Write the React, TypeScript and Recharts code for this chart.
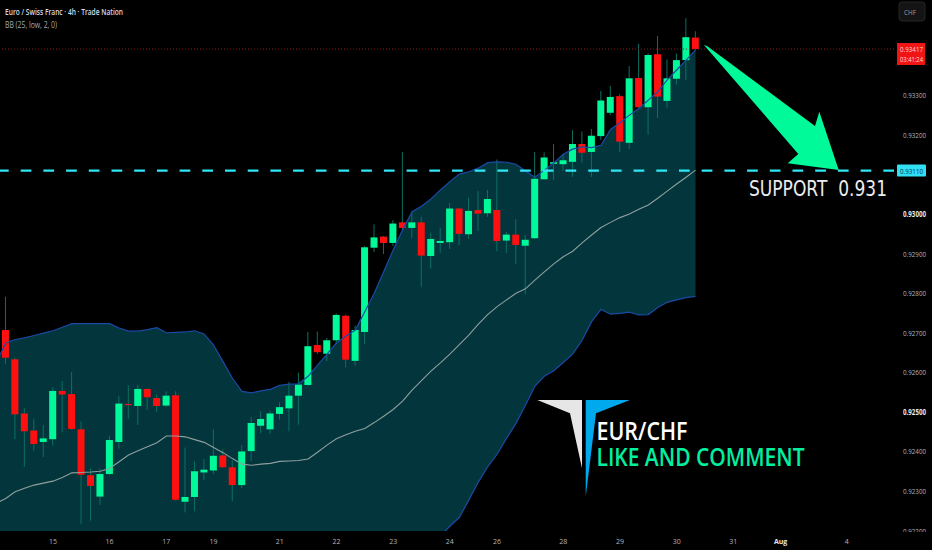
import React from 'react';
import {
  ComposedChart,
  Area,
  Bar,
  Line,
  XAxis,
  YAxis,
  ReferenceLine,
} from 'recharts';

// first entry of every list is the bar just left of the visible window
const opens = [0.927, 0.92707, 0.92633, 0.92496, 0.92453, 0.92424, 0.92431, 0.92553, 0.92545, 0.92456, 0.9234, 0.92286, 0.92343, 0.92424, 0.9252, 0.92515, 0.92558, 0.92535, 0.92516, 0.92542, 0.92273, 0.92285, 0.92347, 0.92352, 0.9239, 0.9236, 0.92315, 0.92401, 0.92465, 0.92456, 0.92495, 0.92509, 0.92541, 0.92568, 0.92669, 0.92647, 0.92681, 0.92743, 0.92629, 0.92702, 0.92915, 0.92943, 0.92927, 0.92979, 0.92965, 0.92979, 0.92894, 0.92927, 0.92929, 0.93014, 0.92949, 0.9301, 0.93002, 0.9301, 0.92933, 0.92948, 0.9292, 0.92939, 0.93088, 0.93127, 0.93126, 0.93132, 0.93177, 0.93157, 0.93197, 0.93256, 0.93298, 0.9318, 0.93344, 0.9327, 0.93404, 0.93286, 0.93342, 0.93389, 0.93446];
const closes = [0.9272, 0.92637, 0.92494, 0.92451, 0.92419, 0.92433, 0.92553, 0.92544, 0.92457, 0.92341, 0.92313, 0.92343, 0.92429, 0.92521, 0.92517, 0.92558, 0.92537, 0.92515, 0.92541, 0.92278, 0.92285, 0.9235, 0.92354, 0.92389, 0.9236, 0.92315, 0.924, 0.92472, 0.92482, 0.92496, 0.92512, 0.92541, 0.92569, 0.92666, 0.92651, 0.92681, 0.92745, 0.92632, 0.92707, 0.92916, 0.92941, 0.92927, 0.92976, 0.92965, 0.92979, 0.92895, 0.92937, 0.92932, 0.93014, 0.9295, 0.93008, 0.93001, 0.93038, 0.92932, 0.92948, 0.92922, 0.92935, 0.93089, 0.93143, 0.93131, 0.93136, 0.93177, 0.93155, 0.93198, 0.93287, 0.93296, 0.93183, 0.93343, 0.9327, 0.93402, 0.93297, 0.93343, 0.93389, 0.93447, 0.93417];
const highs = [0.9273, 0.92791, 0.92637, 0.92509, 0.92483, 0.92467, 0.92562, 0.92578, 0.92601, 0.92476, 0.92357, 0.92357, 0.9244, 0.9254, 0.92567, 0.92568, 0.92559, 0.92544, 0.92552, 0.92552, 0.9241, 0.92375, 0.92381, 0.92456, 0.92405, 0.92378, 0.92416, 0.92487, 0.92502, 0.92503, 0.92524, 0.92576, 0.92599, 0.92702, 0.92703, 0.92687, 0.92749, 0.92746, 0.92718, 0.92919, 0.92974, 0.92944, 0.92985, 0.93157, 0.93006, 0.92993, 0.92953, 0.92965, 0.93028, 0.93015, 0.93041, 0.93058, 0.93061, 0.93138, 0.92955, 0.92987, 0.92947, 0.93157, 0.93156, 0.93177, 0.93152, 0.93212, 0.93209, 0.93215, 0.93311, 0.93324, 0.93303, 0.93374, 0.9343, 0.93406, 0.9345, 0.93391, 0.93406, 0.93495, 0.93462];
const lows = [0.9268, 0.9262, 0.92431, 0.92361, 0.92402, 0.92386, 0.92415, 0.92449, 0.92455, 0.92216, 0.92225, 0.92265, 0.9234, 0.92407, 0.92483, 0.92467, 0.92505, 0.925, 0.92512, 0.92276, 0.92246, 0.92249, 0.92328, 0.92343, 0.92359, 0.92274, 0.92307, 0.92376, 0.92446, 0.92445, 0.92481, 0.92451, 0.92468, 0.92566, 0.92646, 0.92628, 0.92673, 0.92612, 0.92617, 0.92671, 0.92904, 0.92899, 0.92919, 0.9296, 0.9294, 0.92815, 0.92862, 0.92902, 0.92912, 0.92922, 0.92937, 0.92957, 0.92993, 0.92906, 0.92901, 0.92874, 0.92797, 0.92937, 0.93087, 0.93086, 0.93109, 0.93094, 0.9313, 0.93094, 0.93187, 0.9325, 0.93157, 0.93165, 0.93268, 0.93201, 0.93243, 0.93269, 0.93327, 0.93339, 0.93415];

const bbUpper = [0.92624, 0.92674, 0.92683, 0.92687, 0.92693, 0.92699, 0.92705, 0.92714, 0.92723, 0.92723, 0.92723, 0.92723, 0.92723, 0.92712, 0.92704, 0.92704, 0.92708, 0.92713, 0.927, 0.92701, 0.92702, 0.92705, 0.92697, 0.92669, 0.92627, 0.92585, 0.92552, 0.92548, 0.92553, 0.92557, 0.92567, 0.9257, 0.92571, 0.9259, 0.92618, 0.92646, 0.92674, 0.92692, 0.92707, 0.92753, 0.928, 0.92854, 0.92909, 0.9296, 0.93006, 0.9302, 0.93038, 0.93061, 0.93082, 0.93101, 0.93107, 0.93116, 0.9313, 0.93132, 0.93131, 0.93126, 0.93109, 0.93093, 0.93111, 0.93129, 0.93151, 0.93164, 0.9317, 0.93168, 0.93174, 0.93214, 0.93231, 0.9325, 0.93267, 0.93288, 0.93309, 0.93339, 0.93364, 0.93389, 0.93415];
const bbBasis = [0.92269, 0.92281, 0.92298, 0.92307, 0.92315, 0.9232, 0.92325, 0.92334, 0.92346, 0.92347, 0.92348, 0.9235, 0.92357, 0.92374, 0.92391, 0.92402, 0.92412, 0.92422, 0.92439, 0.92439, 0.92437, 0.9243, 0.92423, 0.9241, 0.92397, 0.92382, 0.92368, 0.92365, 0.92368, 0.9237, 0.92375, 0.92376, 0.92377, 0.92381, 0.92398, 0.92416, 0.92432, 0.92442, 0.92451, 0.92458, 0.92473, 0.92489, 0.92506, 0.92527, 0.92555, 0.92579, 0.92603, 0.92624, 0.92646, 0.9267, 0.92694, 0.92721, 0.92746, 0.92766, 0.92783, 0.928, 0.92811, 0.92833, 0.92854, 0.92874, 0.92892, 0.92906, 0.92927, 0.92947, 0.92966, 0.92979, 0.92991, 0.93, 0.93012, 0.93023, 0.9304, 0.93058, 0.93076, 0.93093, 0.93111];
const bbLower = [0.91875, 0.9189, 0.9191, 0.91926, 0.91936, 0.91941, 0.91946, 0.91953, 0.91969, 0.9197, 0.91974, 0.91976, 0.91991, 0.92037, 0.92077, 0.921, 0.92115, 0.9213, 0.92178, 0.92176, 0.92171, 0.92156, 0.92148, 0.9215, 0.92166, 0.92181, 0.92183, 0.92183, 0.92183, 0.92183, 0.92183, 0.92181, 0.92181, 0.92173, 0.92178, 0.92186, 0.92191, 0.92192, 0.92193, 0.92163, 0.92145, 0.92125, 0.92105, 0.92095, 0.92105, 0.92138, 0.92155, 0.92186, 0.92211, 0.92233, 0.92277, 0.92322, 0.92361, 0.92393, 0.92433, 0.92471, 0.92517, 0.92565, 0.9259, 0.92604, 0.92625, 0.92646, 0.92681, 0.92728, 0.92759, 0.92747, 0.92749, 0.92752, 0.92745, 0.92746, 0.92764, 0.92777, 0.92783, 0.92789, 0.92792];

const dayTicks = [5, 11, 17, 22, 29, 35, 41, 47, 52, 59, 65, 71, 77, 82, 89];
const dayLabels = ['15', '16', '17', '19', '21', '22', '23', '24', '26', '28', '29', '30', '31', 'Aug', '4'];
const priceTicks = [0.93417, 0.933, 0.932, 0.9311, 0.93, 0.929, 0.928, 0.927, 0.926, 0.925, 0.924, 0.923, 0.922];
const strongPrices = [0.93, 0.925];
const lastPrice = 0.93417;
const supportPrice = 0.9311;
const countdown = '03:41:24';

const UP = '#00fa9a';
const DOWN = '#ff1010';
const WICK = '#0b7062';
const UI_FONT = '"Open Sans", "Noto Sans", sans-serif';
const PRICE_W = 23;

const rows = highs.map((high, i) => ({
  x: i - 1,
  open: opens[i],
  close: closes[i],
  wick: [lows[i], high],
  band: [bbLower[i], bbUpper[i]],
  upper: bbUpper[i],
  basis: bbBasis[i],
  lower: bbLower[i],
}));

const Candle = (props: any) => {
  const { x, y, width, height, payload } = props;
  const [low, high] = payload.wick;
  const pxPerPrice = height / (high - low);
  const bodyTop = y + (high - Math.max(payload.open, payload.close)) * pxPerPrice;
  const bodyH = Math.max(Math.abs(payload.open - payload.close) * pxPerPrice, 1);
  const color = payload.close >= payload.open ? UP : DOWN;
  return (
    <g>
      <rect x={x + width / 2 - 0.5} y={y} width={1} height={height} fill={WICK} />
      <rect x={x} y={bodyTop} width={width} height={bodyH} fill={color} />
    </g>
  );
};

const PriceTick = (props: any) => {
  const { x, y, payload } = props;
  const value = payload.value;
  if (value === lastPrice) {
    return (
      <g fontFamily={UI_FONT} fontSize={8} fill="#ffd9d9">
        <rect x={897} y={43} width={28} height={22} fill="#f01414" />
        <text x={900} y={52} textLength={PRICE_W} lengthAdjust="spacingAndGlyphs">{value.toFixed(5)}</text>
        <text x={900} y={62} textLength={PRICE_W} lengthAdjust="spacingAndGlyphs">{countdown}</text>
      </g>
    );
  }
  if (value === supportPrice) {
    return (
      <g fontFamily={UI_FONT} fontSize={8}>
        <rect x={897} y={y - 6} width={29} height={12} rx={1} fill="#2fe0f5" />
        <text x={900} y={y + 3} fill="#06323a" textLength={PRICE_W} lengthAdjust="spacingAndGlyphs">{value.toFixed(5)}</text>
      </g>
    );
  }
  const strong = strongPrices.includes(value);
  return (
    <text
      x={x + 1}
      y={y + 3}
      fontFamily={UI_FONT}
      fontSize={8}
      fontWeight={strong ? 700 : 400}
      fill={strong ? '#e6e6e6' : '#b2b5be'}
      textLength={PRICE_W}
      lengthAdjust="spacingAndGlyphs"
      clipPath="url(#priceClip)"
    >
      {value.toFixed(5)}
    </text>
  );
};

const DayTick = (props: any) => {
  const { x, y, payload } = props;
  const label = dayLabels[dayTicks.indexOf(payload.value)];
  return (
    <text
      x={x}
      y={y + 5}
      textAnchor="middle"
      fontFamily={UI_FONT}
      fontSize={7}
      fontWeight={label === 'Aug' ? 700 : 400}
      fill={label === 'Aug' ? '#e6e6e6' : '#b2b5be'}
    >
      {label}
    </text>
  );
};

// drawing tools and watermark sit over the chart
const Annotations = () => (
  <svg width={932} height={550} style={{ position: 'absolute', left: 0, top: 0, pointerEvents: 'none' }}>
    <text x={5} y={15} fontFamily={UI_FONT} fontSize={9} fontWeight={600} fill="#d8dae0" textLength={118} lengthAdjust="spacingAndGlyphs">
      Euro / Swiss Franc · 4h · Trade Nation
    </text>
    <text x={5} y={28} fontFamily={UI_FONT} fontSize={9} fill="#a8abb4" textLength={52} lengthAdjust="spacingAndGlyphs">
      BB (25, low, 2, 0)
    </text>

    <rect x={899} y={2} width={26} height={19} rx={3} fill="#141414" stroke="#242424" />
    <text x={904} y={15} fontFamily={UI_FONT} fontSize={8} fill="#9a9da6" textLength={12} lengthAdjust="spacingAndGlyphs">
      CHF
    </text>

    <polygon
      points="704,45 707,46 815,126 819.3,111.7 838.7,170 787.7,163.3 798.3,154"
      fill="#00fa9a"
    />
    <text
      x={749}
      y={196}
      fontFamily='"DejaVu Sans", sans-serif'
      fontSize={21}
      fill="#ececec"
      textLength={138}
      lengthAdjust="spacingAndGlyphs"
      style={{ whiteSpace: 'pre' }}
    >
      SUPPORT  0.931
    </text>

    <polygon points="537.3,400 582,400 582,468.3 570,413.3" fill="#e6e6e6" />
    <polygon points="585.7,400 630,400 596,413.3 585.7,496.7" fill="#00a8ee" />
    <text
      x={596.5}
      y={440}
      fontFamily='"Open Sans", sans-serif'
      fontSize={25}
      fontWeight={600}
      fill="#ffffff"
      textLength={91}
      lengthAdjust="spacingAndGlyphs"
    >
      EUR/CHF
    </text>
    <text
      x={596.5}
      y={466}
      fontFamily='"Open Sans", sans-serif'
      fontSize={26}
      fontWeight={600}
      fill="#00f0a0"
      textLength={208}
      lengthAdjust="spacingAndGlyphs"
    >
      LIKE AND COMMENT
    </text>
  </svg>
);

export default function App() {
  return (
    <div style={{ position: 'absolute', left: 0, top: 0, width: 932, height: 550, background: '#000', overflow: 'hidden' }}>
      <ComposedChart
        width={932}
        height={550}
        data={rows}
        margin={{ top: 0, right: 0, bottom: 0, left: 0 }}
        barSize={7}
      >
        <defs>
          <clipPath id="priceClip">
            <rect x={894} y={0} width={38} height={532} />
          </clipPath>
        </defs>
        <XAxis
          dataKey="x"
          type="number"
          domain={[-0.6, 94]}
          allowDataOverflow
          ticks={dayTicks}
          interval={0}
          height={19}
          axisLine={false}
          tickLine={false}
          tick={<DayTick />}
        />
        <YAxis
          orientation="right"
          type="number"
          domain={[0.92199, 0.93541]}
          allowDataOverflow
          ticks={priceTicks}
          interval={0}
          width={38}
          axisLine={false}
          tickLine={false}
          tick={<PriceTick />}
        />
        <Area
          dataKey="band"
          type="linear"
          stroke="none"
          fill="#03363c"
          fillOpacity={1}
          dot={false}
          activeDot={false}
          isAnimationActive={false}
        />
        <Line dataKey="basis" type="linear" stroke="#8f9e9e" strokeWidth={1.1} dot={false} activeDot={false} isAnimationActive={false} />
        <Line dataKey="upper" type="linear" stroke="#1a4aa6" strokeWidth={1.2} dot={false} activeDot={false} isAnimationActive={false} />
        <Line dataKey="lower" type="linear" stroke="#1a4aa6" strokeWidth={1.2} dot={false} activeDot={false} isAnimationActive={false} />
        <Bar dataKey="wick" shape={<Candle />} isAnimationActive={false} />
        <ReferenceLine y={lastPrice} stroke="#8a1c1c" strokeWidth={1} strokeDasharray="1 2" />
        <ReferenceLine y={supportPrice} stroke="#2fe6f5" strokeWidth={2.2} strokeDasharray="10.7 12" />
      </ComposedChart>
      <Annotations />
    </div>
  );
}
